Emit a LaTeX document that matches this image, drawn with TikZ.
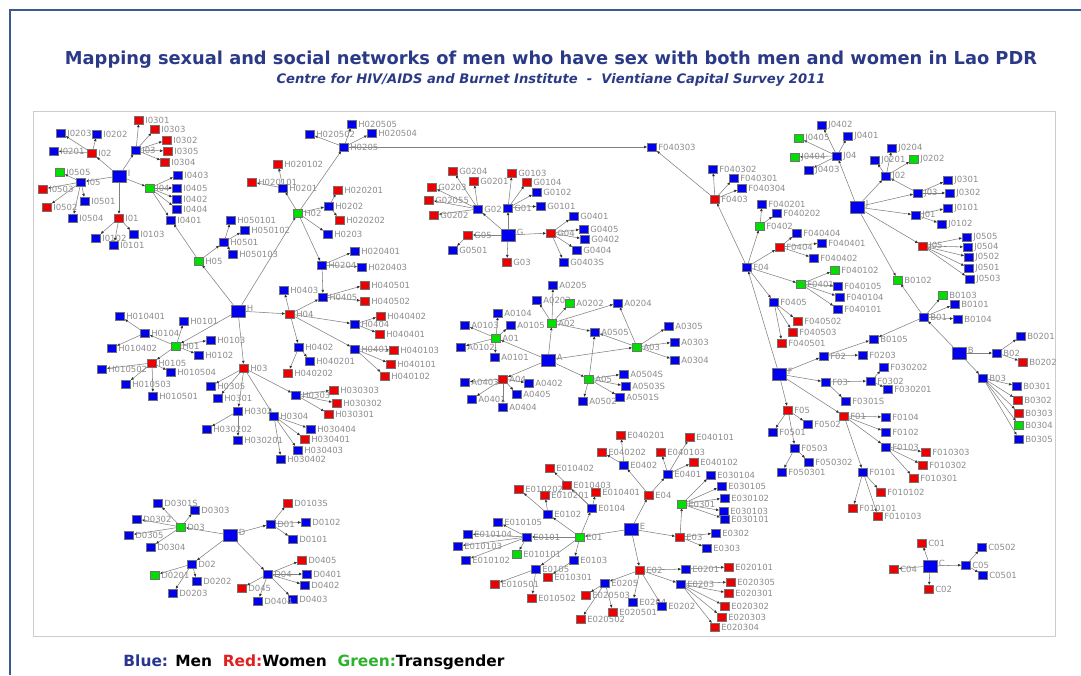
\documentclass[tikz,border=0pt]{standalone}
\usepackage{fontspec}
\usepackage{xcolor}
\usepackage{graphicx}
\usepackage{tikz}
\usetikzlibrary{arrows.meta,backgrounds}
\newfontfamily\dejavu{DejaVu Sans}
\definecolor{cMan}  {HTML}{0000EE}
\definecolor{cWoman}{HTML}{EE0000}
\definecolor{cTrans}{HTML}{00E000}
\definecolor{cLbl}  {HTML}{8C8C8C}
\definecolor{cEdge} {HTML}{808080}
\definecolor{cTitle}{HTML}{2B3A86}
\definecolor{cFrame}{HTML}{3D5A8C}
\definecolor{cLegB} {HTML}{2A3592}
\definecolor{cLegR} {HTML}{E0201F}
\definecolor{cLegG} {HTML}{2DB22D}
\tikzset{
  >={Latex[length=3.2pt,width=2.8pt,color=black!80]},
  sq/.style={rectangle,draw=black!55,line width=0.4pt,inner sep=0pt,
             minimum width=9pt,minimum height=7.5pt},
  man/.style={sq,fill=cMan},
  woman/.style={sq,fill=cWoman},
  trans/.style={sq,fill=cTrans},
  hub/.style={sq,fill=cMan,minimum width=14pt,minimum height=12pt},
  lab/.style={font=\dejavu\fontsize{8.5}{9}\selectfont,text=cLbl,inner sep=0.6pt},
  lnk/.style={->,cEdge,line width=0.55pt},
  label distance=0.8pt,
}

\begin{document}
\begin{tikzpicture}[x=1pt,y=-1pt]
    \useasboundingbox (0,0) rectangle (1081,675);
    \draw[cFrame,line width=1.2pt] (10,675) -- (10,10) -- (1081,10);
    \draw[black!20,line width=0.8pt] (33,111) rectangle (1055,636);
    % title, subtitle, legend
    \node[cTitle,font=\dejavu\bfseries] (ttl) at (551,60)
         {\resizebox{972pt}{!}{Mapping sexual and social networks of men who have sex with both men and women in Lao PDR}};
    \node[cTitle,font=\dejavu\bfseries\itshape] (sub) at (551,80)
         {\resizebox{549pt}{!}{Centre for HIV/AIDS and Burnet Institute\ \ -\ \ Vientiane Capital Survey 2011}};
    \node[font=\dejavu\bfseries] (lgd) at (314,662)
         {\resizebox{381pt}{!}{\textcolor{cLegB}{Blue:} Men\ \ \textcolor{cLegR}{Red:}Women\ \ \textcolor{cLegG}{Green:}Transgender}};
    % hubs
    \foreach \n/\x/\y in {I/119/176, H/238/311, G/508/235, A/548/360, F/779/374,
                          J/857/207, B/959/353, E/631/529, D/230/535, C/930/566}
      \node[hub,label={[lab,yshift=3pt]right:\n}] (\n) at (\x,\y) {};
    % men
    \foreach \n/\x/\y in {I0203/61/133, I0202/97/134, I0201/54/151, I03/136/150, I05/81/182,
        I0501/85/201, I0504/73/218, I0403/178/175, I0405/177/188, I0402/177/199,
        I0404/177/209, I0401/171/220, I0102/96/238, I0101/114/245, I0103/134/234,
        H0501/224/242, H050101/231/220, H050102/245/230, H050103/233/254, H0201/283/188,
        H0205/344/147, H020505/352/124, H020502/310/134, H020504/372/133, H0202/329/206,
        H0203/328/234, H0204/322/265, H020401/355/251, H020403/362/267,
        H0101/184/321, H0103/211/340, H0102/199/355, H0104/145/333, H010401/120/316,
        H010402/112/348, H010502/102/369, H010504/171/372, H010503/126/384, H010501/153/396,
        H0305/211/386, H0301/218/398, H0302/238/411, H030202/207/429, H030201/238/440,
        H0304/274/416, H0303/296/395, H030404/311/429, H030403/298/450, H030402/281/459,
        H0403/284/290, H0405/323/297, H0404/355/324, H0401/355/349, H0402/299/347,
        H040201/310/361,
        G02/478/209, G01/508/208, G0102/537/192, G0101/541/206, G0501/453/250,
        G0401/574/216, G0405/584/229, G0402/585/239, G0404/577/250, G0403S/564/262,
        A0104/498/313, A0105/511/325, A0103/465/325, A0102/461/347, A0101/495/357,
        A0403/465/382, A0401/472/399, A0404/503/407, A0405/517/394, A0402/529/383,
        A0203/537/300, A0205/553/285, A0204/618/303, A0505/595/332, A0305/669/326,
        A0303/675/342, A0304/675/360, A0504S/624/374, A0503S/626/386, A0501S/620/397,
        A0502/583/401,
        F040303/652/147, F040302/713/169, F040301/734/178, F040304/742/188, F040201/762/204,
        F040202/777/213, F04/747/267, F040404/797/233, F040401/822/243, F040402/814/258,
        F040105/838/286, F040104/840/297, F040101/838/309, F0405/774/302,
        F02/824/356, F0203/863/355, F03/826/382, F0302/871/381, F030202/884/367,
        F030201/888/389, F0301S/846/401, F0104/886/417, F0102/886/432, F0103/886/447,
        F0101/863/472, F0501/773/432, F0502/808/424, F0503/795/448, F050302/809/462,
        F050301/782/472,
        J04/837/156, J0402/822/125, J0401/848/136, J0403/809/170, J02/886/176,
        J0204/892/148, J0201/875/160, J03/918/193, J0301/948/180, J0302/950/193,
        J01/916/215, J0101/948/208, J0102/942/224, J0505/967/237, J0504/968/247,
        J0502/969/257, J0501/969/268, J0503/970/279,
        B01/924/317, B0101/955/304, B0104/958/319, B0105/874/339, B02/997/353,
        B0201/1021/336, B03/983/378, B0301/1017/386, B0305/1019/439,
        E0102/548/514, E0104/592/508, E0101/527/537, E010105/498/522, E010104/468/534,
        E010103/458/546, E010102/466/560, E0105/536/569, E0103/574/560, E0402/624/465,
        E0401/668/474, E030104/711/475, E030105/722/486, E030102/725/498, E030103/724/511,
        E030101/725/519, E0302/716/533, E0303/707/548, E0201/686/569, E0203/681/584,
        E0204/633/602, E0202/662/606, E0205/605/583,
        D0301S/158/503, D0303/195/510, D0302/137/519, D0305/129/535, D0304/151/547,
        D02/192/564, D0202/197/581, D0203/173/593, D01/271/524, D0102/306/522,
        D0101/293/539, D04/268/574, D0401/307/574, D0402/305/585, D0403/293/599,
        D0404/258/601,
        C05/966/565, C0502/982/547, C0501/983/575}
      \node[man,label={[lab]right:\n}] (\n) at (\x,\y) {};
    % women
    \foreach \n/\x/\y in {I02/92/153, I0301/139/120, I0303/155/129, I0302/167/140, I0305/168/151,
        I0304/165/162, I0503/43/189, I0502/47/207, I01/119/218,
        H020101/252/182, H020102/278/164, H020201/338/190, H020202/340/220, H0105/152/363,
        H03/244/368, H04/290/314, H040202/288/373, H030401/305/439, H040501/365/285,
        H040502/365/301, H040402/381/316, H040401/380/334, H040103/394/350, H040101/391/364,
        H040102/385/376, H030303/334/390, H030302/337/403, H030301/329/414,
        G0204/453/171, G0201/474/181, G0203/432/187, G02055/429/200, G0202/434/215,
        G0103/512/173, G0104/527/182, G05/468/235, G03/507/262, G04/551/233,
        A04/503/379,
        F0403/715/199, F0404/780/247, F040502/798/321, F040503/793/332, F040501/782/343,
        F05/788/410, F01/844/416, F010303/926/452, F010302/923/465, F010301/914/478,
        F010102/881/492, F010101/853/508, F010103/878/516,
        J05/923/246, B0202/1023/362, B0302/1018/400, B0303/1019/413,
        E010202/519/489, E010201/545/495, E010401/596/492, E010403/567/485, E010402/550/468,
        E010301/548/577, E010501/495/584, E010502/532/598, E04/649/495, E040202/602/452,
        E040201/621/435, E040103/661/452, E040101/690/437, E040102/694/462, E03/680/537,
        E02/640/570, E020101/729/567, E020305/731/582, E020301/729/593, E020302/725/606,
        E020303/722/617, E020304/715/627, E020503/586/595, E020502/581/619, E020501/613/612,
        D0103S/288/503, D0405/302/560, D045/242/588,
        C01/922/543, C02/929/589, C04/894/569}
      \node[woman,label={[lab]right:\n}] (\n) at (\x,\y) {};
    % transgender
    \foreach \n/\x/\y in {I0505/60/172, I04/150/188, H05/199/261, H02/298/213, H01/176/346,
        A01/496/338, A02/552/323, A0202/570/303, A03/637/347, A05/589/379,
        F0402/760/226, F0401/801/284, F040102/835/270, J0405/799/138, J0404/795/157,
        J0202/914/159, B0102/898/280, B0103/943/295, B0304/1019/425, E01/580/537,
        E010101/517/554, E0301/682/504, D03/181/527, D0201/155/575}
      \node[trans,label={[lab]right:\n}] (\n) at (\x,\y) {};
    % links
    \begin{scope}[on background layer]
    \foreach \a/\b in {I/I02, I/I03, I/I05, I/I04, I/I01,
        I02/I0203, I02/I0202, I02/I0201,
        I03/I0301, I03/I0303, I03/I0302, I03/I0305, I03/I0304,
        I05/I0505, I05/I0503, I05/I0502, I05/I0501, I05/I0504,
        I04/I0403, I04/I0405, I04/I0402, I04/I0404, I04/I0401,
        I01/I0102, I01/I0101, I01/I0103, H05/I0401,
        H/H05, H/H02, H/H01, H/H03, H/H04,
        H05/H0501, H0501/H050101, H0501/H050102, H0501/H050103,
        H02/H0201, H02/H0202, H02/H0203, H02/H0204, H02/H0205,
        H0201/H020101, H0201/H020102, H0202/H020201, H0202/H020202,
        H0204/H020401, H0204/H020403,
        H0205/H020505, H0205/H020502, H0205/H020504, H0205/F040303,
        H01/H0101, H01/H0103, H01/H0102, H01/H0104, H01/H0105,
        H0104/H010401, H0104/H010402,
        H0105/H010502, H0105/H010504, H0105/H010503, H0105/H010501,
        H03/H0305, H03/H0301, H03/H0302, H03/H0304, H03/H0303,
        H0302/H030202, H0302/H030201,
        H0304/H030401, H0304/H030402, H0304/H030403, H0304/H030404,
        H0303/H030303, H0303/H030302, H0303/H030301,
        H04/H0403, H04/H0405, H04/H0404, H04/H0401, H04/H0402, H0204/H0405,
        H0405/H040501, H0405/H040502, H0404/H040402, H0404/H040401,
        H0401/H040103, H0401/H040101, H0401/H040102,
        H0402/H040201, H0402/H040202,
        G/G02, G/G01, G/G05, G/G03, G/G04,
        G02/G0204, G02/G0201, G02/G0203, G02/G02055, G02/G0202,
        G01/G0103, G01/G0104, G01/G0102, G01/G0101, G05/G0501,
        G04/G0401, G04/G0405, G04/G0402, G04/G0404, G04/G0403S,
        A/A01, A/A02, A/A03, A/A04, A/A05,
        A01/A0104, A01/A0105, A01/A0103, A01/A0102, A01/A0101,
        A04/A0403, A04/A0401, A04/A0404, A04/A0405, A04/A0402,
        A02/A0203, A02/A0205, A02/A0202, A02/A0204, A02/A0505,
        A03/A0204, A03/A0505, A03/A0305, A03/A0303, A03/A0304,
        A05/A0505, A05/A0504S, A05/A0503S, A05/A0501S, A05/A0502,
        F/F04, F/F02, F/F03, F/F01, F/F05,
        F04/F0403, F04/F0402, F04/F0404, F04/F0401, F04/F0405,
        F0403/F040302, F0403/F040301, F0403/F040304, F0403/F040303,
        F0402/F040201, F0402/F040202,
        F0404/F040404, F0404/F040401, F0404/F040402,
        F0401/F040102, F0401/F040105, F0401/F040104, F0401/F040101,
        F0405/F040502, F0405/F040503, F0405/F040501,
        F02/F0203, F02/B0105, B01/B0105,
        F03/F0302, F03/F0301S, F0302/F030202, F0302/F030201,
        F01/F0104, F01/F0102, F01/F0103, F01/F0101,
        F0103/F010303, F0103/F010302, F0103/F010301,
        F0101/F010102, F0101/F010101, F0101/F010103,
        F05/F0501, F05/F0502, F05/F0503, F0503/F050302, F0503/F050301,
        J/J04, J/J02, J/J03, J/J01, J/J05, J/B0102,
        J04/J0402, J04/J0401, J04/J0405, J04/J0404, J04/J0403,
        J02/J0204, J02/J0201, J02/J0202, J03/J02,
        J03/J0301, J03/J0302, J01/J0101, J01/J0102,
        J05/J0505, J05/J0504, J05/J0502, J05/J0501, J05/J0503,
        B/B01, B/B02, B/B03, B01/B0102, B01/B0103, B01/B0101, B01/B0104,
        B02/B0201, B02/B0202,
        B03/B0301, B03/B0302, B03/B0303, B03/B0304, B03/B0305,
        E/E01, E/E04, E/E03, E/E02,
        E01/E0102, E01/E0104, E01/E0103, E01/E0105, E01/E0101,
        E0101/E010105, E0101/E010104, E0101/E010103, E0101/E010102, E0101/E010101,
        E0102/E010202, E0102/E010201,
        E0104/E010401, E0104/E010403, E0104/E010402,
        E0103/E010301, E0105/E010501, E0105/E010502,
        E04/E0402, E04/E0401, E0402/E040202, E0402/E040201,
        E0401/E040103, E0401/E040101, E0401/E040102,
        E03/E0301, E03/E0302, E03/E0303,
        E0301/E030104, E0301/E030105, E0301/E030102, E0301/E030103, E0301/E030101,
        E02/E0201, E02/E0203, E02/E0204, E02/E0202, E02/E0205, E0201/E020101,
        E0203/E020305, E0203/E020301, E0203/E020302, E0203/E020303, E0203/E020304,
        E0205/E020503, E0205/E020502, E0205/E020501,
        D/D03, D/D02, D/D01, D/D04,
        D03/D0301S, D03/D0303, D03/D0302, D03/D0305, D03/D0304,
        D02/D0201, D02/D0202, D02/D0203,
        D01/D0103S, D01/D0102, D01/D0101,
        D04/D0405, D04/D0401, D04/D0402, D04/D0403, D04/D045, D04/D0404,
        C/C01, C/C02, C/C04, C/C05, C05/C0502, C05/C0501}
      \draw[lnk] (\a) -- (\b);
    \end{scope}
\end{tikzpicture}
\end{document}
